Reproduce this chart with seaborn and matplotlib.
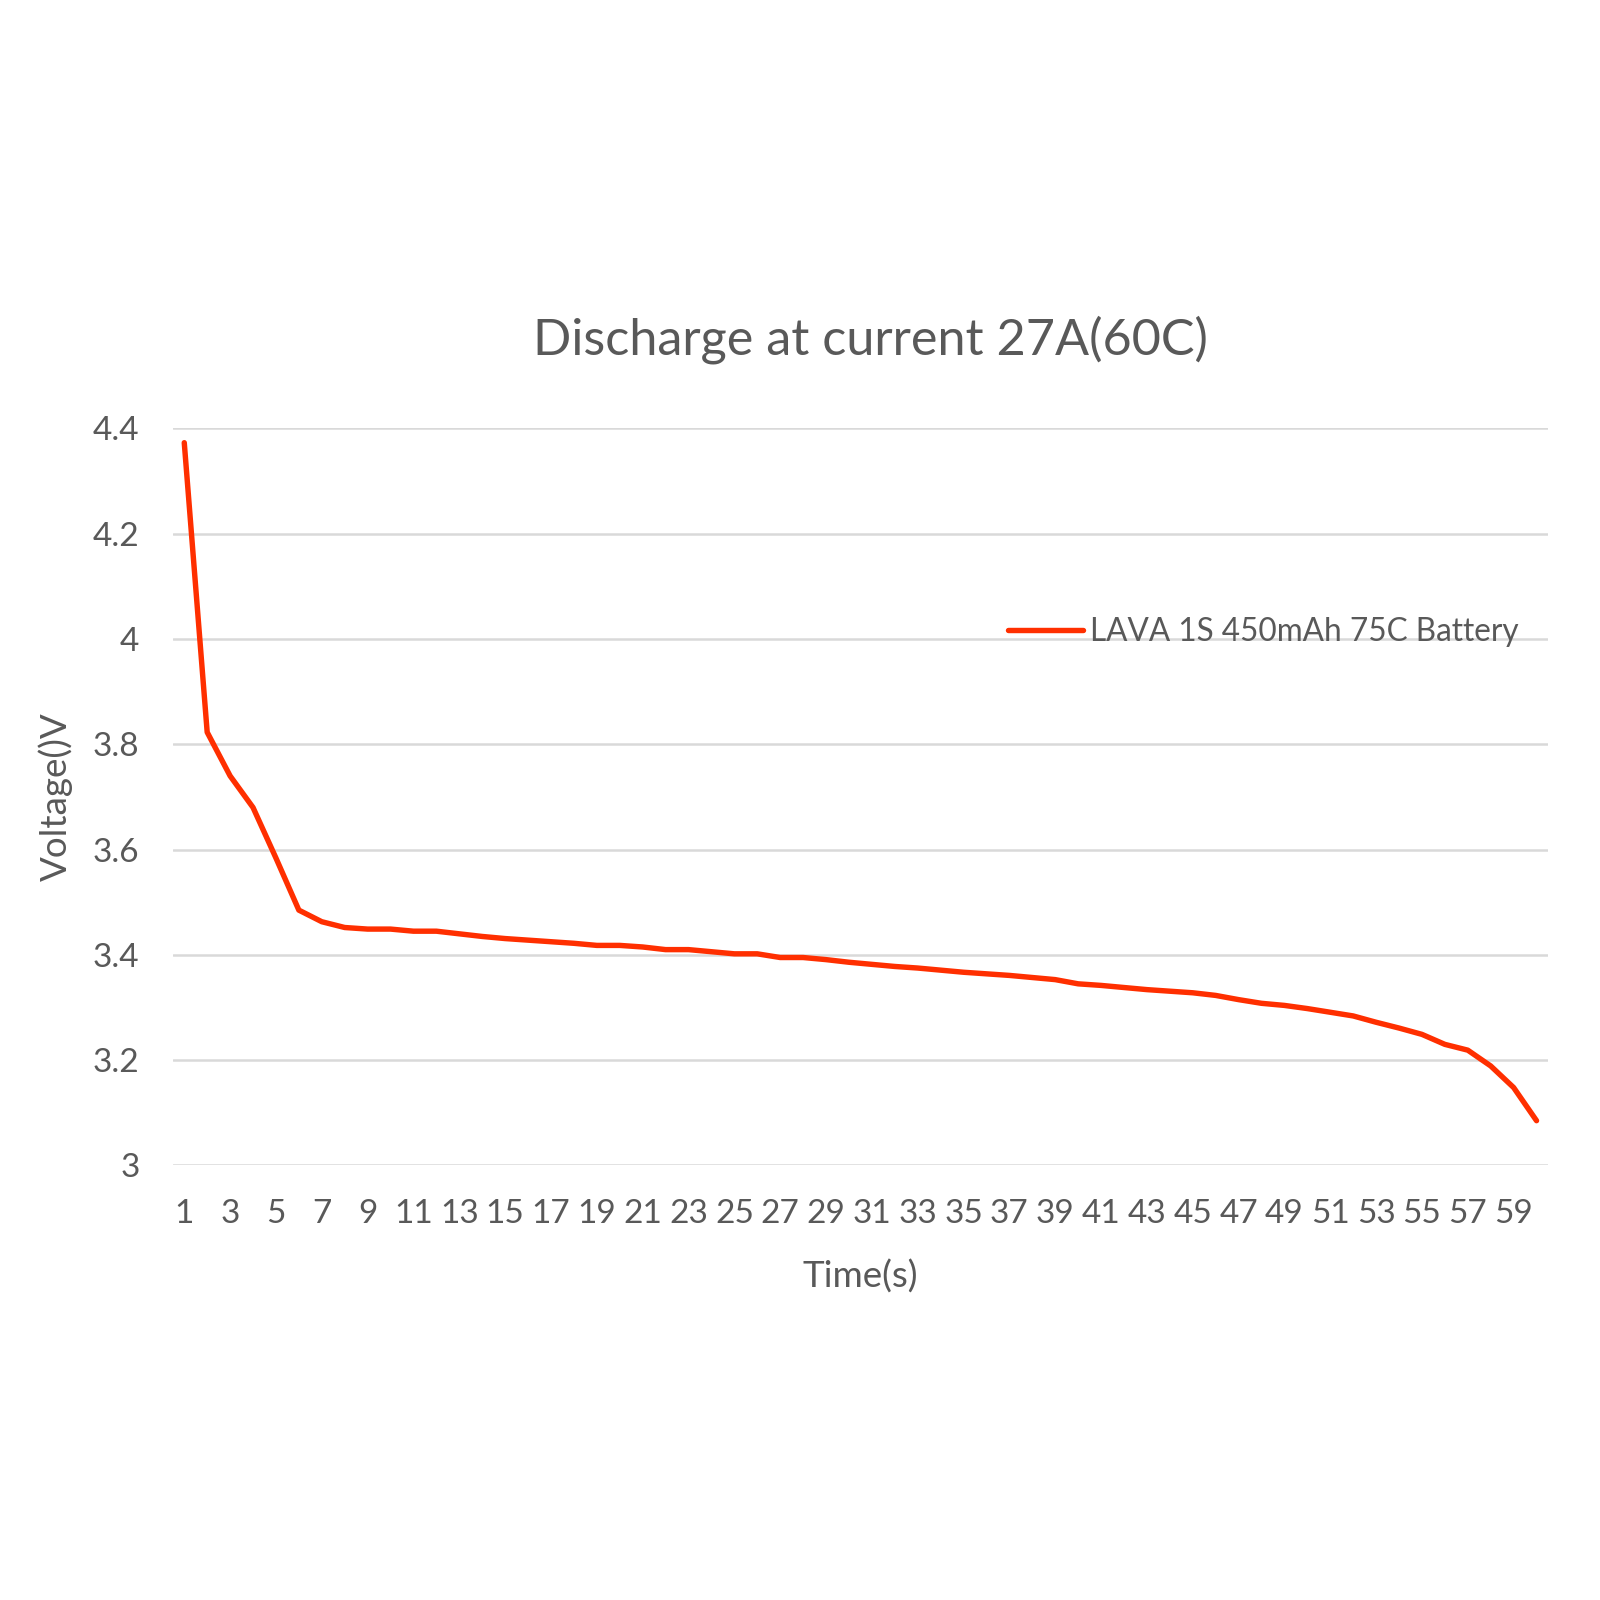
import numpy as np
import pandas as pd
import matplotlib
matplotlib.use("Agg")
import matplotlib.pyplot as plt
import seaborn as sns

# discharge curve
time_s = list(range(1, 61))
voltage = [4.373, 3.823, 3.740, 3.680, 3.584, 3.485, 3.463, 3.452, 3.449, 3.449,
           3.445, 3.445, 3.440, 3.435, 3.431, 3.428, 3.425, 3.422, 3.418, 3.418,
           3.415, 3.410, 3.410, 3.406, 3.402, 3.402, 3.395, 3.395, 3.391, 3.386,
           3.382, 3.378, 3.375, 3.371, 3.367, 3.364, 3.361, 3.357, 3.353, 3.345,
           3.342, 3.338, 3.334, 3.331, 3.328, 3.323, 3.315, 3.308, 3.304, 3.298,
           3.291, 3.284, 3.272, 3.261, 3.249, 3.230, 3.219, 3.189, 3.148, 3.085]
series_name = "LAVA 1S 450mAh 75C Battery"
y_ticks = [3, 3.2, 3.4, 3.6, 3.8, 4, 4.2, 4.4]
y_tick_labels = ["3", "3.2", "3.4", "3.6", "3.8", "4", "4.2", "4.4"]
x_ticks = list(range(1, 61, 2))

df = pd.DataFrame({"Time": time_s, "Voltage": voltage, "Series": series_name})

sns.set_style("white")
plt.rcParams["font.family"] = ["Lato", "DejaVu Sans"]

grey = "#595959"
fig = plt.figure(figsize=(16, 16), dpi=100)
ax = fig.add_axes([0.108, 0.2716, 0.8595, 0.4606])

for y in y_ticks:
    ax.axhline(y, color="#d9d9d9", lw=1.8, zorder=0)

sns.lineplot(data=df, x="Time", y="Voltage", hue="Series", palette=["#ff2f00"],
             linewidth=3.9, ax=ax, legend=True)

ax.set_xlim(0.5, 60.5)
ax.set_ylim(3, 4.4)
ax.set_xticks(x_ticks)
ax.set_xticklabels([str(t) for t in x_ticks])
ax.set_yticks(y_ticks)
ax.set_yticklabels(y_tick_labels)
ax.tick_params(axis="both", length=0, labelsize=24, labelcolor=grey)
ax.tick_params(axis="x", pad=24)
ax.tick_params(axis="y", pad=24)
for s in ax.spines.values():
    s.set_visible(False)
ax.grid(False)

ax.set_xlabel("Time(s)", fontsize=26.5, color=grey, labelpad=22)
ax.set_ylabel("Voltage()V", fontsize=26.5, color=grey, labelpad=14)

fig.text(0.544, 0.788, "Discharge at current 27A(60C)", fontsize=36.3,
         color=grey, ha="center", va="center")

handles, labels = ax.get_legend_handles_labels()
ax.legend(handles, labels, loc="center left", bbox_to_anchor=(0.612, 0.605),
          bbox_transform=fig.transFigure, frameon=False, fontsize=22.7,
          handlelength=2.4, handletextpad=0.2, labelcolor=grey)

fig.savefig("out.png", dpi=100, facecolor="white")
